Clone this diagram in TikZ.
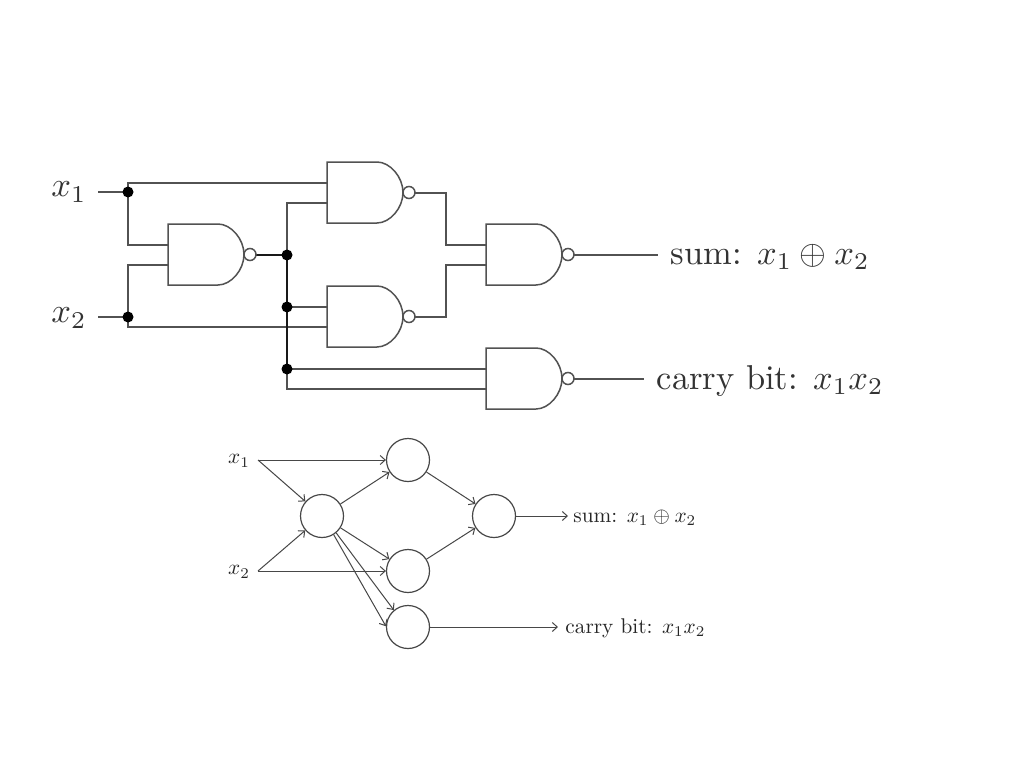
\documentclass[tikz,border=0pt]{standalone}
\usetikzlibrary{backgrounds,arrows.meta}
\tikzset{
  wire/.style={draw=black!68,line width=1.5pt},
  heavy/.style={draw=black!90,line width=2.5pt},
  dotnode/.style={circle,fill=black,inner sep=0pt,minimum size=11pt},
  biglabel/.style={text=black!80,scale=3.45,transform shape,inner sep=0pt},
  smalllabel/.style={text=black!85,scale=2.13,transform shape,inner sep=0pt},
  neuron/.style={circle,draw=black!72,line width=1.2pt,minimum size=43pt,inner sep=0pt},
  conn/.style={draw=black!72,line width=1pt,-{Straight Barb[length=5pt,width=9pt]}},
  nand/.pic={
    \draw[wire] (0,0) -- (50,0) .. controls (63,0) and (76,15) .. (76,30.5)
      .. controls (76,46) and (63,61) .. (50,61) -- (0,61) -- cycle;
    \draw[wire,fill=white] (82,30.5) circle (6pt);
    \coordinate (-a) at (0,21);
    \coordinate (-b) at (0,41);
    \coordinate (-o) at (88,31);
  }
}
\begin{document}
\begin{tikzpicture}[x=1pt,y=-1pt]
\useasboundingbox (0,0) rectangle (1024,768);
% upper circuit
\pic (g1) at (168,224) {nand};
\pic (g2) at (327,162) {nand};
\pic (g3) at (327,286) {nand};
\pic (g4) at (486,224) {nand};
\pic (g5) at (486,348) {nand};
\node[biglabel] (lx1) at (69,192) {$x_1$};
\node[biglabel] (lx2) at (69,318) {$x_2$};
\node[biglabel,anchor=west] (lsum) at (670,257) {sum: $x_1\oplus x_2$};
\node[biglabel,anchor=west] (lcarry) at (656,381) {carry bit: $x_1x_2$};
\coordinate (s1) at (98,192);
\coordinate (s2) at (98,317);
\coordinate (esum) at (658,255);
\coordinate (ecarry) at (644,379);
\node[dotnode] (d1) at (128,192) {};
\node[dotnode] (d2) at (128,317) {};
\node[dotnode] (d3) at (287,255) {};
\node[dotnode] (d4) at (287,307) {};
\node[dotnode] (d5) at (287,369) {};
\begin{scope}[on background layer]
\fill[white] (0,0) rectangle (1024,768);
\draw[wire] (s1) -- (d1.center);
\draw[wire] (s2) -- (d2.center);
\draw[wire] (d1.center) |- (g2-a);
\draw[wire] (d1.center) |- (g1-a);
\draw[wire] (d2.center) |- (g1-b);
\draw[wire] (d2.center) |- (g3-b);
\draw[heavy] (g1-o) -- (d3.center);
\draw[wire] (d3.center) |- (g2-b);
\draw[heavy,line width=1.9pt] (d3.center) -- (d5.center);
\draw[wire] (d4.center) -- (g3-a);
\draw[wire] (d5.center) -- (g5-a);
\draw[wire] (d5.center) |- (g5-b);
\draw[wire] (g2-o) -| (446,230) |- (g4-a);
\draw[wire] (g3-o) -| (446,280) |- (g4-b);
\draw[wire] (g4-o) -- (esum);
\draw[wire] (g5-o) -- (ecarry);
\end{scope}
% lower network
\node[neuron] (n1) at (322,516) {};
\node[neuron] (n2) at (408,460) {};
\node[neuron] (n3) at (408,571) {};
\node[neuron] (n4) at (408,627) {};
\node[neuron] (n5) at (494,516) {};
\node[smalllabel] (ax1) at (239,461) {$x_1$};
\node[smalllabel] (ax2) at (239,572) {$x_2$};
\node[smalllabel,anchor=west] (asum) at (573,517.5) {sum: $x_1\oplus x_2$};
\node[smalllabel,anchor=west] (acarry) at (565,628) {carry bit: $x_1x_2$};
\coordinate (p1) at (258,460);
\coordinate (p2) at (258,571);
\coordinate (e1) at (568,516);
\coordinate (e2) at (558,627);
\draw[conn] (p1) -- (n2);
\draw[conn] (p1) -- (n1);
\draw[conn] (p2) -- (n1);
\draw[conn] (p2) -- (n3);
\draw[conn] (n1) -- (n2);
\draw[conn] (n1) -- (n3);
\draw[conn] (n1.-50) -- (n4.130);
\draw[conn] (n1.-58) -- (n4.178);
\draw[conn] (n2) -- (n5);
\draw[conn] (n3) -- (n5);
\draw[conn] (n5) -- (e1);
\draw[conn] (n4) -- (e2);
\end{tikzpicture}
\end{document}
